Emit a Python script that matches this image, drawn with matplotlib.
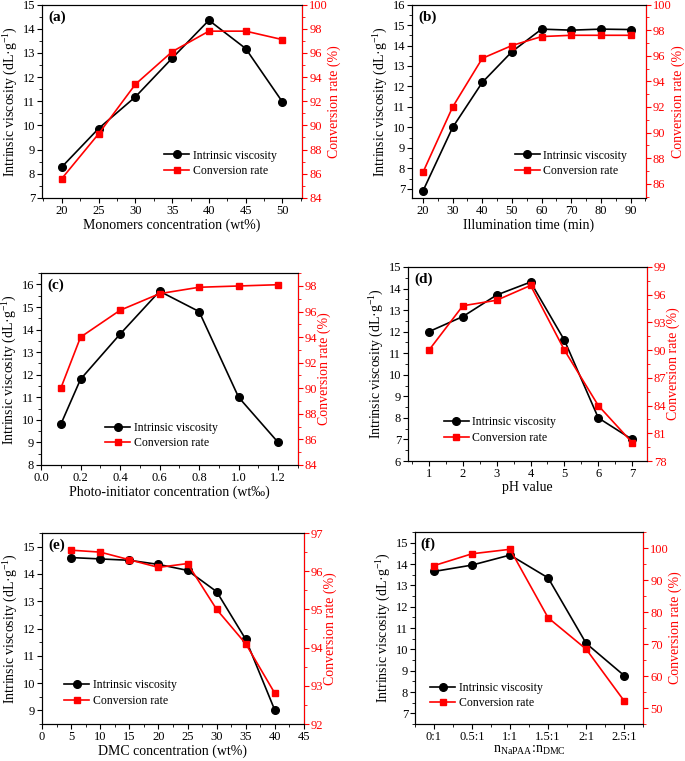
import matplotlib
matplotlib.use('agg')
import matplotlib.pyplot as plt
from matplotlib.ticker import MultipleLocator, FormatStrFormatter

plt.rcParams['font.family'] = ['Liberation Serif', 'DejaVu Serif']
plt.rcParams['mathtext.fontset'] = 'custom'
plt.rcParams['mathtext.rm'] = 'Liberation Serif'
plt.rcParams['mathtext.it'] = 'Liberation Serif:italic'

# (a) monomers concentration
mono_x = [20, 25, 30, 35, 40, 45, 50]
mono_iv = [8.28, 9.87, 11.18, 12.78, 14.35, 13.18, 10.97]
mono_cr = [85.6, 89.3, 93.4, 96.1, 97.8, 97.8, 97.1]

# (b) illumination time
illum_x = [20, 30, 40, 50, 60, 70, 80, 90]
illum_iv = [6.9, 10.0, 12.2, 13.7, 14.8, 14.75, 14.8, 14.78]
illum_cr = [86.9, 92.0, 95.8, 96.8, 97.5, 97.6, 97.6, 97.6]

# (c) photo-initiator concentration
photo_x = [0.1, 0.2, 0.4, 0.6, 0.8, 1.0, 1.2]
photo_iv = [9.8, 11.8, 13.8, 15.7, 14.8, 11.0, 9.0]
photo_cr = [90.0, 94.0, 96.1, 97.4, 97.9, 98.0, 98.1]

# (d) pH value
ph_x = [1, 2, 3, 4, 5, 6, 7]
ph_iv = [12.0, 12.7, 13.7, 14.3, 11.6, 8.0, 7.0]
ph_cr = [90.0, 94.8, 95.4, 97.0, 90.0, 84.0, 80.0]

# (e) DMC concentration
dmc_x = [5, 10, 15, 20, 25, 30, 35, 40]
dmc_iv = [14.6, 14.55, 14.5, 14.35, 14.13, 13.35, 11.6, 9.0]
dmc_cr = [96.55, 96.5, 96.3, 96.1, 96.2, 95.0, 94.1, 92.8]

# (f) molar ratio
ratio_labels = ['0:1', '0.5:1', '1:1', '1.5:1', '2:1', '2.5:1']
ratio_iv = [13.65, 13.95, 14.42, 13.35, 10.28, 8.77]
ratio_cr = [94.5, 98.2, 99.6, 78.2, 68.4, 52.2]

RED = '#ff0000'
panels = [
    dict(tag='(a)', x=mono_x, iv=mono_iv, cr=mono_cr, xlabel='Monomers concentration (wt%)',
         pos=[0.0613, 0.740, 0.380, 0.254], xlim=(17.3, 52.7), ylim=(7, 15), y2lim=(84, 100),
         xt=(5, 2.5), yt=(1, 0.5), y2t=(2, 1), leg=(0.47, 0.25)),
    dict(tag='(b)', x=illum_x, iv=illum_iv, cr=illum_cr, xlabel='Illumination time (min)',
         pos=[0.6015, 0.740, 0.3415, 0.254], xlim=(16.3, 95.2), ylim=(6.56, 16), y2lim=(84.9, 100),
         xt=(10, 5), yt=(1, 0.5), y2t=(2, 1), leg=(0.44, 0.25)),
    dict(tag='(c)', x=photo_x, iv=photo_iv, cr=photo_cr, xlabel='Photo-initiator concentration (wt\u2030)',
         pos=[0.0599, 0.389, 0.375, 0.252], xlim=(0, 1.3), ylim=(8, 16.5), y2lim=(84, 99),
         xt=(0.2, 0.1), yt=(1, 0.5), y2t=(2, 1), leg=(0.25, 0.225)),
    dict(tag='(d)', x=ph_x, iv=ph_iv, cr=ph_cr, xlabel='pH value',
         pos=[0.5956, 0.3942, 0.349, 0.255], xlim=(0.38, 7.44), ylim=(6, 15), y2lim=(78, 99),
         xt=(1, 0.5), yt=(1, 0.5), y2t=(3, 1.5), leg=(0.15, 0.23)),
    dict(tag='(e)', x=dmc_x, iv=dmc_iv, cr=dmc_cr, xlabel='DMC concentration (wt%)',
         pos=[0.0613, 0.0486, 0.3825, 0.251], xlim=(0, 45), ylim=(8.5, 15.5), y2lim=(92, 97),
         xt=(5, 2.5), yt=(1, 0.5), y2t=(1, 0.5), leg=(0.085, 0.235)),
    dict(tag='(f)', x=list(range(len(ratio_labels))), iv=ratio_iv, cr=ratio_cr,
         xlabel=r'n$_{\mathrm{NaPAA}}$:n$_{\mathrm{DMC}}$',
         pos=[0.6058, 0.0486, 0.3332, 0.2523], xlim=(-0.5, 5.5), ylim=(6.5, 15.5), y2lim=(45, 105),
         xt=(1, 0.5), yt=(1, 0.5), y2t=(10, 5), leg=(0.068, 0.22)),
]

fig = plt.figure(figsize=(6.85, 7.61), dpi=100)

for p in panels:
    ax = fig.add_axes(p['pos'])
    ax2 = ax.twinx()
    l1, = ax.plot(p['x'], p['iv'], color='black', marker='o', markersize=5.5, lw=1.2,
                  label='Intrinsic viscosity')
    l2, = ax2.plot(p['x'], p['cr'], color=RED, marker='s', markersize=5, lw=1.2,
                   label='Conversion rate')
    ax.set_xlim(p['xlim'])
    ax.set_ylim(p['ylim'])
    ax2.set_ylim(p['y2lim'])
    ax.xaxis.set_major_locator(MultipleLocator(p['xt'][0]))
    ax.xaxis.set_minor_locator(MultipleLocator(p['xt'][1]))
    ax.yaxis.set_major_locator(MultipleLocator(p['yt'][0]))
    ax.yaxis.set_minor_locator(MultipleLocator(p['yt'][1]))
    ax2.yaxis.set_major_locator(MultipleLocator(p['y2t'][0]))
    ax2.yaxis.set_minor_locator(MultipleLocator(p['y2t'][1]))
    if p['tag'] == '(f)':
        ax.set_xticks(p['x'])
        ax.set_xticklabels(ratio_labels)
    if p['tag'] == '(c)':
        ax.xaxis.set_major_formatter(FormatStrFormatter('%.1f'))

    for a in (ax, ax2):
        a.tick_params(which='major', direction='out', length=3.5, width=0.8, labelsize=9,
                      pad=1.5, top=False)
        a.tick_params(which='minor', direction='out', length=2, width=0.6, top=False)
    ax.tick_params(axis='y', right=False, which='both')
    ax2.tick_params(axis='y', colors=RED, which='both')
    ax2.spines['right'].set_color(RED)
    for s in ax.spines.values():
        s.set_linewidth(0.8)
    ax2.spines['right'].set_linewidth(0.8)

    ax.set_ylabel('Intrinsic viscosity (dL\u00b7g$^{-1}$)', fontsize=10, labelpad=2)
    ax2.set_ylabel('Conversion rate (%)', fontsize=10, color=RED, labelpad=0)
    ax.set_xlabel(p['xlabel'], fontsize=10, labelpad=1)
    ax.text(0.025, 0.97, p['tag'], transform=ax.transAxes, fontsize=11, fontweight='bold',
            va='top', ha='left')

    ax2.legend(handles=[l1, l2], loc='upper left', bbox_to_anchor=p['leg'], frameon=False,
               fontsize=8.5, handlelength=2.1, handletextpad=0.3, labelspacing=0.3,
               borderpad=0, borderaxespad=0)

fig.savefig('out.png', dpi=100)
